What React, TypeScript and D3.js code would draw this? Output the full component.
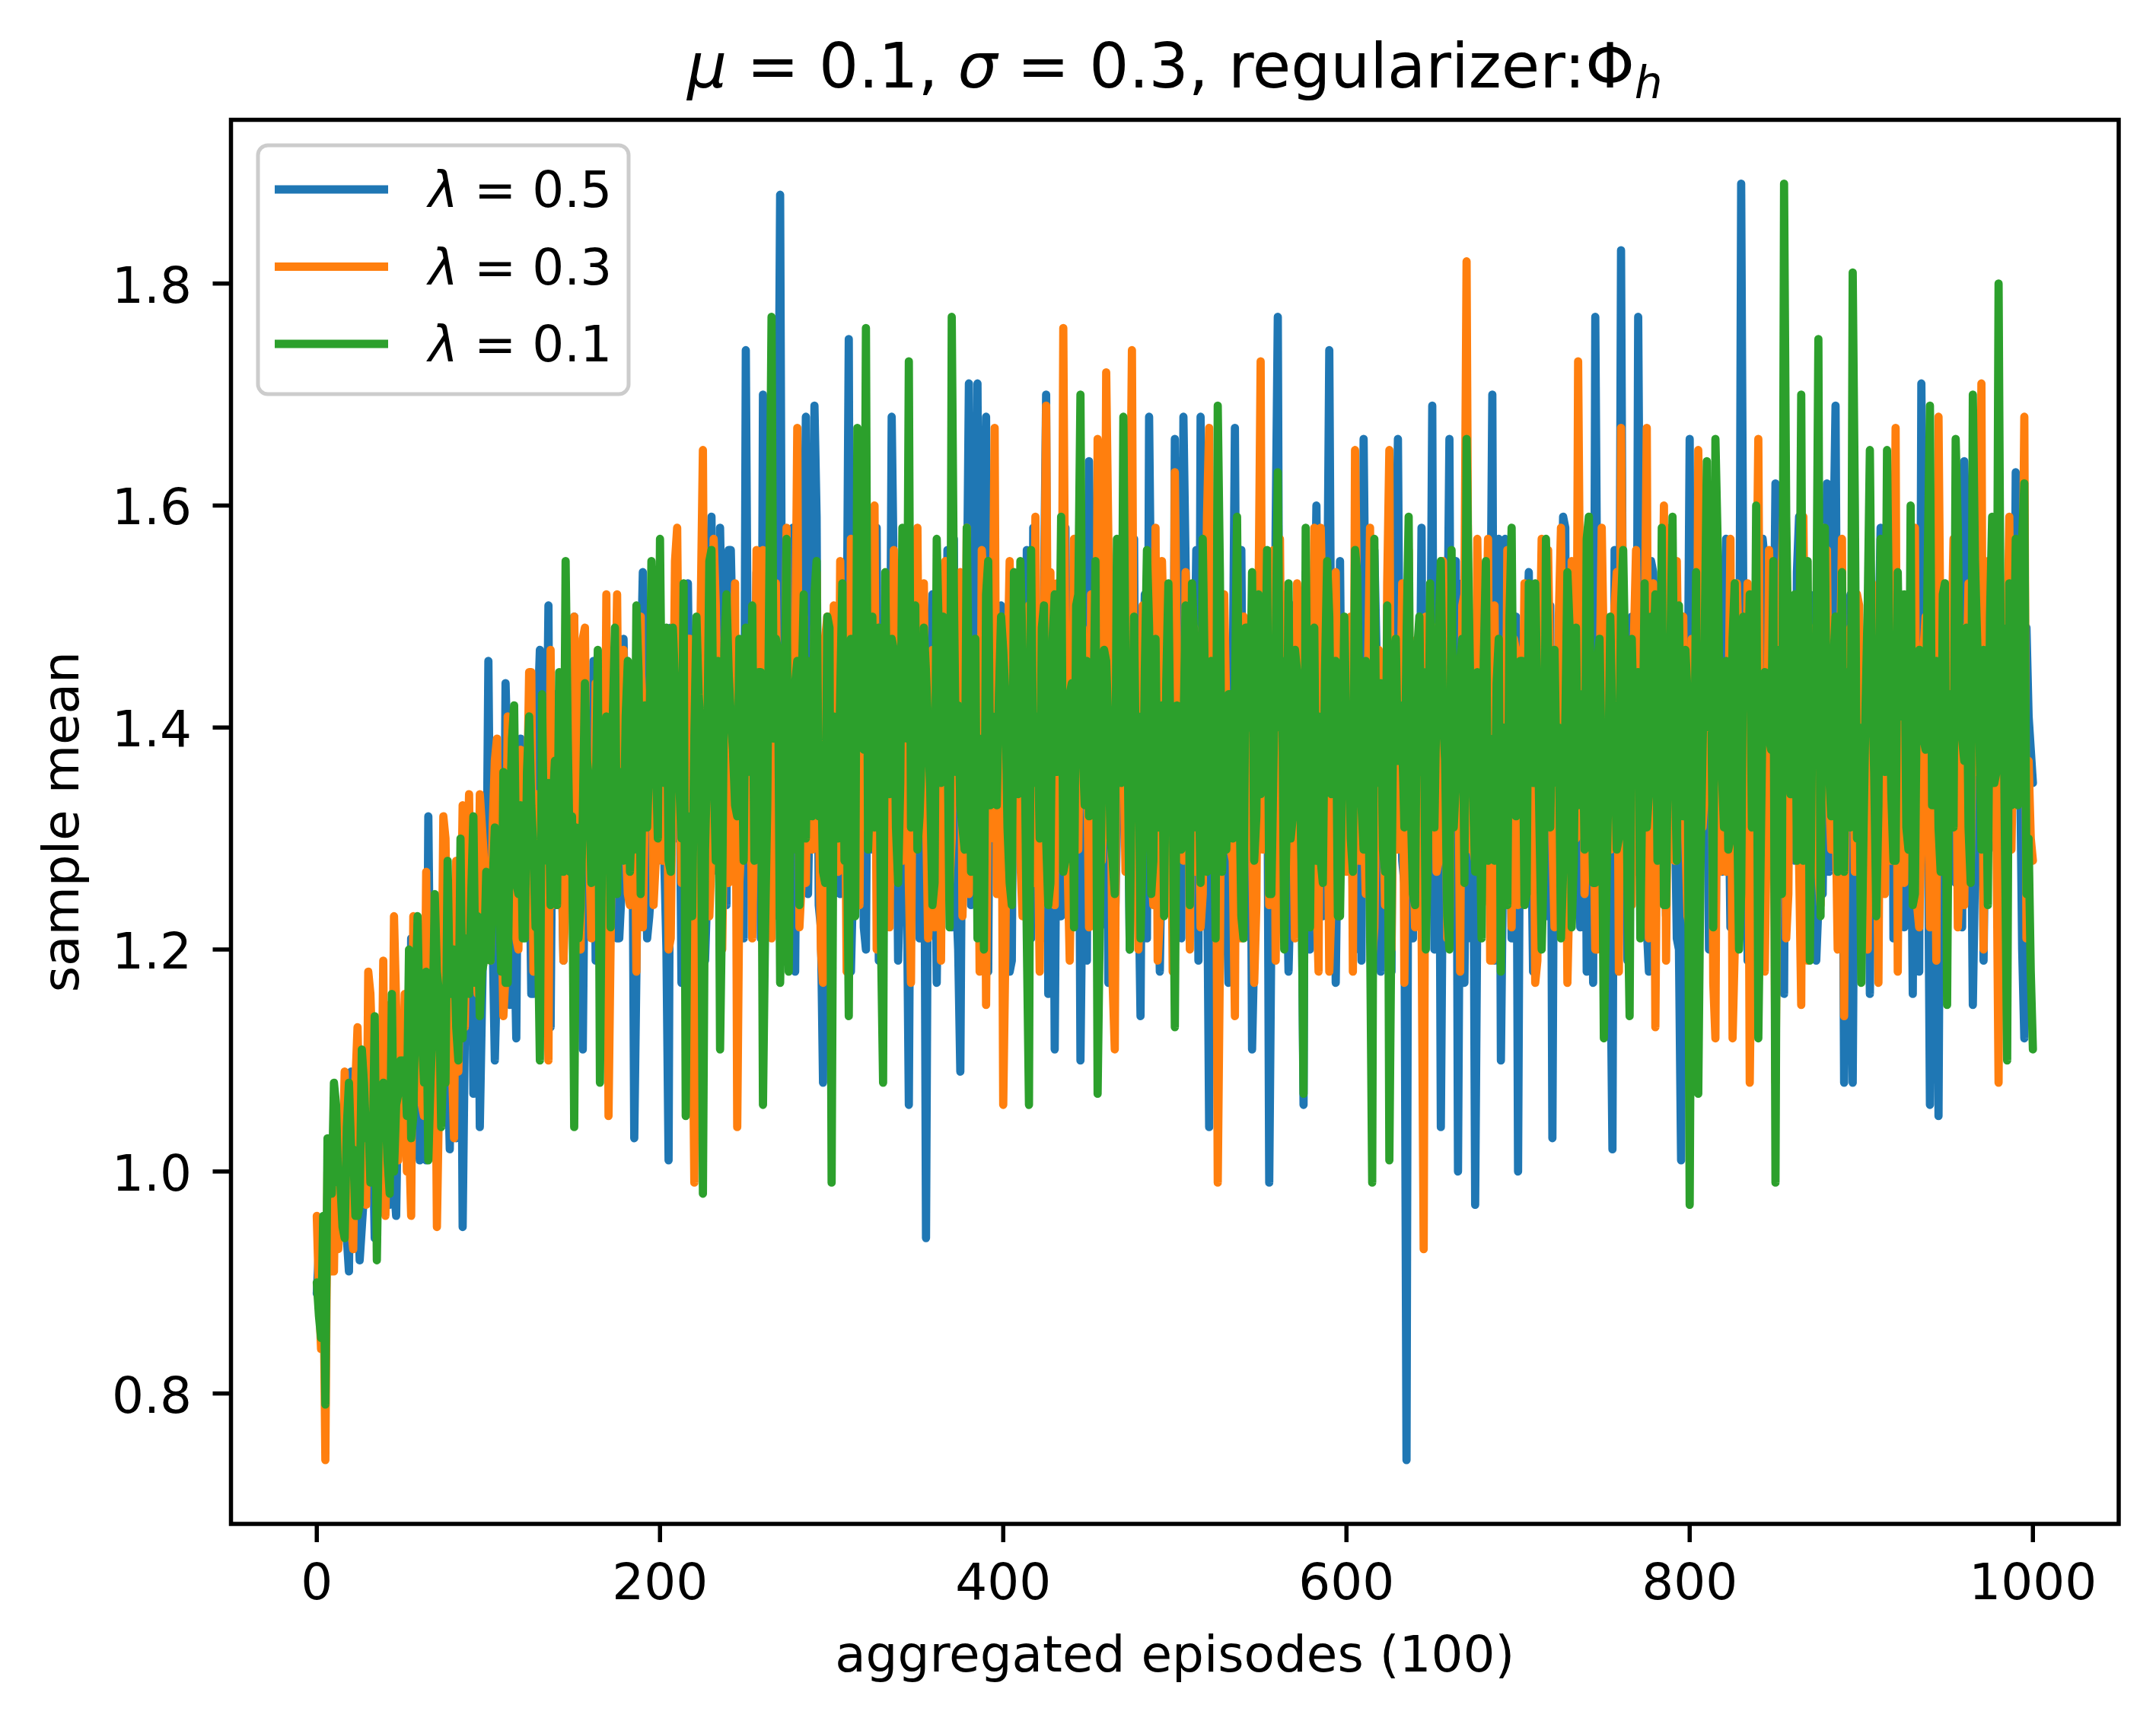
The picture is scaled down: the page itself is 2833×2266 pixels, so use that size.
import * as d3 from "d3";

// readings taken every 5 aggregated episodes (0, 5, ..., 1000)
const stepEpisodes = d3.range(0, 1001, 5);
// readings taken halfway between them (2.5, 7.5, ..., 997.5)
const midEpisodes = d3.range(2.5, 1000, 5);
// readings taken at the quarter points (1.25, 3.75, ..., 998.75)
const quarterEpisodes = d3.range(1.25, 1000, 2.5);

// sample mean, in hundredths
const lambda05Step = [
  89, 84, 93, 97, 109, 92, 101, 96, 104, 99,
  107, 121, 101, 132, 106, 115, 110, 95, 130, 104,
  146, 118, 144, 122, 128, 116, 147, 151, 124, 133,
  150, 111, 128, 136, 147, 121, 138, 103, 154, 126,
  140, 101, 133, 124, 145, 129, 159, 158, 156, 128,
  174, 136, 170, 124, 188, 130, 142, 168, 169, 108,
  139, 125, 175, 133, 120, 148, 131, 168, 127, 106,
  142, 94, 135, 150, 122, 109, 171, 171, 168, 131,
  145, 119, 138, 152, 128, 170, 111, 140, 126, 110,
  164, 133, 145, 121, 150, 134, 114, 168, 129, 142,
  166, 168, 125, 168, 104, 139, 126, 167, 131, 111,
  145, 99, 177, 129, 141, 106, 138, 124, 174, 132,
  148, 120, 166, 136, 118, 144, 166, 74, 140, 125,
  169, 104, 166, 100, 137, 97, 142, 170, 110, 135,
  100, 148, 127, 139, 103, 146, 124, 138, 118, 177,
  131, 102, 183, 128, 177, 122, 145, 133, 150, 101,
  166, 130, 142, 119, 151, 128, 189, 134, 120, 146,
  162, 116, 139, 128, 152, 124, 162, 169, 108, 108,
  141, 116, 147, 131, 155, 122, 116, 171, 106, 105,
  138, 126, 164, 115, 145, 132, 163, 127, 163, 112,
  135,
];
const lambda05Mid = [
  86, 95, 99, 94, 102, 98, 105, 100, 97, 108,
  112, 104, 118, 110, 123, 102, 120, 113, 109, 125,
  121, 133, 115, 137, 126, 130, 119, 138, 129, 141,
  127, 135, 119, 140, 130, 125, 142, 134, 121, 145,
  128, 139, 117, 136, 148, 125, 140, 131, 147, 135,
  129, 150, 123, 142, 135, 158, 127, 136, 124, 146,
  132, 151, 126, 143, 137, 119, 153, 140, 130, 145,
  128, 147, 133, 156, 125, 142, 136, 129, 150, 138,
  124, 147, 133, 158, 121, 139, 149, 132, 144, 127,
  141, 153, 129, 145, 137, 124, 152, 138, 131, 148,
  127, 143, 156, 134, 146, 121, 140, 152, 129, 138,
  155, 132, 140, 126, 149, 137, 160, 128, 145, 134,
  139, 152, 125, 147, 133, 156, 128, 142, 137, 150,
  126, 145, 135, 153, 121, 148, 131, 139, 157, 127,
  144, 133, 151, 126, 140, 158, 130, 147, 136, 124,
  149, 138, 127, 144, 132, 155, 129, 146, 121, 141,
  135, 152, 128, 145, 137, 123, 150, 141, 157, 130,
  143, 129, 154, 136, 147, 125, 140, 133, 151, 138,
  129, 146, 135, 158, 127, 142, 149, 132, 144, 123,
  147, 139, 128, 153, 136, 145, 130, 149, 137, 141,
];
const lambda05Quarter = [
  93, 87, 98, 102, 94, 105, 97, 91, 104, 99, 95, 107, 100, 94, 108, 98, 103, 110, 96, 105,
  108, 100, 117, 105, 122, 101, 113, 120, 106, 125, 110, 119, 103, 128, 112, 121, 107, 130, 115, 123,
  124, 110, 133, 117, 137, 120, 112, 139, 122, 131, 116, 141, 125, 134, 113, 143, 127, 119, 136, 129,
  120, 138, 131, 122, 146, 124, 135, 117, 142, 130, 121, 148, 127, 137, 118, 145, 133, 123, 150, 128,
  133, 120, 149, 130, 141, 122, 153, 135, 126, 146, 119, 151, 136, 127, 147, 124, 156, 132, 142, 121,
  142, 128, 154, 121, 148, 134, 123, 157, 139, 127, 150, 118, 144, 152, 125, 137, 159, 122, 146, 131,
  125, 151, 131, 146, 118, 155, 138, 122, 149, 129, 158, 120, 143, 134, 153, 119, 147, 127, 140, 156,
  121, 145, 133, 152, 117, 148, 128, 142, 157, 120, 139, 150, 124, 146, 132, 154, 118, 143, 135, 151,
  130, 118, 149, 140, 126, 156, 121, 145, 134, 152, 116, 147, 138, 123, 158, 122, 141, 150, 128, 119,
  148, 136, 122, 154, 117, 145, 131, 151, 139, 120, 157, 127, 143, 121, 149, 133, 118, 153, 138, 125,
  146, 121, 155, 131, 142, 119, 150, 129, 158, 123, 140, 148, 117, 144, 135, 156, 124, 147, 120, 152,
  134, 145, 122, 158, 127, 139, 118, 151, 143, 128, 154, 120, 146, 136, 123, 149, 140, 117, 155, 130,
  141, 124, 151, 119, 147, 135, 156, 122, 145, 131, 118, 153, 138, 126, 150, 121, 143, 158, 127, 140,
  120, 149, 130, 146, 123, 155, 134, 117, 148, 140, 124, 152, 132, 145, 119, 157, 128, 142, 121, 150,
  139, 126, 154, 118, 147, 136, 123, 151, 143, 129, 159, 120, 146, 133, 122, 153, 140, 117, 148, 127,
  144, 121, 156, 132, 141, 119, 150, 127, 147, 136, 118, 154, 130, 145, 123, 158, 134, 120, 146, 139,
  126, 152, 135, 146, 120, 149, 141, 127, 157, 122, 144, 133, 151, 119, 147, 137, 124, 155, 131, 143,
  148, 122, 153, 139, 128, 159, 124, 145, 135, 119, 150, 142, 127, 156, 133, 144, 121, 152, 137, 146,
  120, 147, 139, 126, 158, 132, 143, 121, 151, 145, 124, 137, 154, 118, 146, 134, 127, 149, 141, 123,
  151, 133, 144, 122, 157, 137, 127, 148, 119, 153, 140, 129, 146, 123, 156, 135, 142, 120, 149, 138,
];

const lambda03Step = [
  96, 74, 91, 99, 95, 104, 118, 101, 96, 123,
  106, 96, 112, 108, 95, 130, 103, 133, 117, 134,
  122, 139, 118, 131, 124, 145, 127, 110, 139, 125,
  150, 148, 121, 137, 105, 152, 130, 141, 122, 147,
  131, 120, 158, 136, 99, 165, 128, 143, 126, 104,
  145, 132, 156, 121, 141, 130, 167, 126, 149, 117,
  138, 155, 124, 142, 131, 160, 120, 139, 148, 126,
  158, 133, 122, 146, 130, 154, 125, 143, 115, 167,
  106, 139, 128, 151, 133, 169, 124, 176, 131, 145,
  122, 166, 172, 111, 140, 174, 127, 148, 119, 137,
  163, 128, 145, 122, 167, 99, 141, 114, 150, 130,
  173, 124, 139, 152, 121, 144, 131, 158, 118, 136,
  127, 165, 132, 119, 146, 165, 129, 140, 122, 93,
  138, 150, 121, 142, 182, 128, 145, 119, 139, 155,
  124, 141, 117, 149, 130, 158, 126, 173, 132, 120,
  146, 135, 167, 124, 140, 167, 113, 160, 131, 147,
  122, 165, 136, 112, 144, 112, 150, 108, 166, 132,
  108, 161, 138, 115, 149, 127, 156, 133, 114, 147,
  129, 152, 117, 140, 167, 126, 148, 131, 122, 168,
  135, 150, 124, 142, 171, 130, 108, 146, 133, 168,
  128,
];
const lambda03Mid = [
  84, 97, 93, 101, 108, 99, 110, 103, 115, 101,
  100, 114, 105, 121, 112, 118, 109, 126, 120, 128,
  131, 125, 136, 120, 133, 127, 138, 124, 131, 143,
  135, 129, 144, 126, 138, 133, 124, 141, 136, 128,
  143, 137, 126, 148, 133, 140, 151, 135, 142, 130,
  138, 147, 129, 153, 135, 142, 126, 145, 134, 150,
  128, 143, 136, 155, 130, 141, 149, 127, 138, 146,
  134, 125, 152, 139, 147, 131, 141, 156, 130, 137,
  145, 132, 150, 126, 140, 154, 137, 128, 149, 135,
  143, 128, 139, 153, 131, 146, 136, 124, 155, 140,
  132, 149, 127, 143, 135, 152, 129, 145, 138, 124,
  141, 156, 133, 128, 147, 136, 125, 149, 140, 131,
  150, 128, 144, 137, 124, 139, 153, 131, 146, 135,
  127, 142, 136, 151, 129, 144, 157, 133, 126, 148,
  137, 129, 145, 156, 123, 141, 135, 150, 128, 143,
  132, 154, 127, 148, 136, 125, 146, 139, 155, 130,
  144, 131, 150, 127, 139, 153, 134, 142, 126, 148,
  136, 125, 147, 140, 131, 158, 129, 144, 137, 152,
  141, 133, 156, 128, 145, 137, 124, 150, 139, 131,
  147, 127, 153, 136, 144, 155, 140, 129, 151, 137,
];
const lambda03Quarter = [
  89, 93, 100, 91, 104, 96, 109, 100, 93, 113, 103, 97, 116, 105, 99, 119, 108, 101, 115, 106,
  116, 103, 123, 110, 106, 127, 113, 121, 107, 132, 117, 110, 128, 119, 113, 134, 122, 116, 131, 124,
  119, 137, 126, 114, 141, 129, 121, 138, 125, 145, 118, 134, 130, 122, 147, 127, 140, 119, 143, 131,
  136, 120, 149, 129, 123, 144, 133, 152, 121, 140, 130, 147, 125, 137, 118, 150, 134, 143, 124, 153,
  128, 146, 121, 155, 137, 127, 148, 119, 142, 151, 132, 123, 157, 138, 120, 147, 135, 153, 126, 144,
  140, 121, 156, 134, 147, 125, 151, 137, 119, 158, 130, 145, 122, 150, 141, 129, 154, 120, 148, 135,
  151, 127, 143, 118, 157, 139, 124, 149, 132, 154, 120, 146, 136, 122, 156, 141, 128, 151, 117, 144,
  133, 153, 121, 147, 140, 119, 155, 126, 150, 135, 123, 158, 131, 143, 118, 152, 138, 146, 125, 148,
  120, 155, 135, 144, 123, 150, 131, 159, 118, 147, 139, 125, 153, 133, 145, 119, 157, 129, 149, 141,
  152, 122, 146, 136, 157, 117, 149, 140, 127, 154, 133, 120, 151, 143, 128, 158, 123, 147, 138, 118,
  145, 131, 154, 120, 149, 139, 125, 159, 130, 146, 119, 152, 141, 128, 155, 121, 148, 136, 117, 151,
  129, 150, 140, 119, 157, 126, 147, 135, 153, 122, 144, 132, 158, 118, 149, 139, 124, 154, 131, 146,
  136, 118, 151, 143, 125, 158, 122, 147, 134, 153, 120, 145, 139, 117, 156, 130, 148, 123, 150, 141,
  149, 128, 155, 121, 146, 137, 118, 152, 142, 129, 157, 124, 145, 119, 151, 140, 132, 156, 122, 147,
  127, 153, 136, 146, 119, 157, 133, 144, 122, 150, 139, 117, 155, 130, 148, 125, 152, 135, 120, 158,
  142, 129, 151, 118, 149, 139, 124, 156, 132, 147, 121, 153, 137, 145, 119, 158, 128, 141, 150, 123,
  148, 122, 154, 134, 145, 117, 151, 141, 127, 157, 120, 146, 137, 153, 125, 149, 133, 118, 156, 140,
  131, 155, 121, 150, 142, 128, 159, 119, 147, 139, 124, 152, 134, 145, 120, 157, 141, 149, 127, 151,
  146, 120, 153, 135, 148, 125, 156, 140, 118, 150, 143, 130, 158, 122, 147, 137, 154, 119, 145, 151,
  133, 157, 122, 149, 142, 127, 153, 138, 120, 155, 146, 131, 151, 125, 159, 141, 134, 148, 121, 130,
];

const lambda01Step = [
  90, 79, 108, 95, 102, 97, 105, 92, 106, 100,
  110, 103, 112, 101, 118, 108, 120, 112, 125, 114,
  122, 128, 117, 142, 121, 133, 110, 135, 124, 155,
  104, 132, 126, 108, 138, 125, 141, 129, 136, 155,
  157, 128, 143, 105, 139, 98, 156, 111, 145, 132,
  149, 128, 106, 177, 117, 118, 146, 130, 152, 127,
  99, 143, 114, 167, 176, 131, 108, 148, 135, 173,
  129, 145, 126, 150, 177, 133, 142, 121, 152, 135,
  147, 124, 155, 106, 141, 130, 152, 127, 144, 170,
  132, 107, 146, 125, 168, 138, 121, 149, 131, 144,
  113, 139, 153, 126, 145, 169, 129, 142, 121, 154,
  134, 125, 163, 130, 147, 107, 141, 128, 150, 123,
  139, 156, 129, 99, 144, 101, 137, 148, 124, 145,
  132, 155, 120, 141, 166, 127, 146, 131, 118, 150,
  134, 125, 153, 128, 143, 121, 149, 133, 157, 126,
  112, 140, 151, 114, 145, 131, 152, 124, 159, 136,
  97, 107, 164, 166, 131, 148, 125, 152, 112, 143,
  99, 189, 134, 170, 119, 175, 138, 150, 127, 181,
  117, 165, 133, 165, 128, 152, 124, 145, 169, 131,
  115, 166, 137, 170, 129, 150, 180, 110, 157, 162,
  111,
];
const lambda01Mid = [
  85, 101, 99, 104, 96, 108, 100, 103, 98, 107,
  105, 115, 108, 113, 104, 116, 110, 121, 117, 119,
  126, 118, 131, 125, 136, 122, 128, 133, 140, 127,
  121, 137, 132, 128, 141, 134, 127, 145, 131, 138,
  135, 149, 130, 124, 143, 137, 128, 147, 138, 141,
  137, 145, 133, 148, 140, 129, 143, 139, 132, 150,
  136, 128, 146, 140, 135, 149, 138, 131, 147, 140,
  138, 134, 148, 141, 136, 129, 145, 139, 133, 143,
  131, 146, 138, 135, 149, 126, 142, 137, 151, 133,
  140, 135, 130, 147, 139, 133, 145, 128, 142, 137,
  135, 148, 131, 144, 138, 127, 143, 136, 149, 132,
  141, 137, 146, 130, 139, 134, 128, 145, 138, 136,
  130, 143, 138, 135, 127, 146, 139, 133, 150, 129,
  143, 137, 131, 148, 140, 135, 128, 144, 139, 134,
  146, 138, 131, 147, 135, 140, 128, 143, 137, 148,
  134, 129, 145, 139, 136, 150, 133, 141, 128, 147,
  131, 138, 145, 140, 129, 135, 147, 133, 142, 138,
  134, 146, 128, 143, 139, 149, 132, 137, 145, 130,
  142, 136, 150, 134, 141, 129, 146, 138, 133, 152,
  137, 143, 131, 148, 140, 135, 149, 133, 144, 130,
];
const lambda01Quarter = [
  87, 96, 103, 98, 106, 99, 94, 108, 102, 96, 111, 103, 99, 114, 105, 108, 101, 116, 106, 110,
  110, 120, 105, 123, 112, 118, 108, 125, 116, 110, 128, 118, 113, 130, 120, 116, 132, 123, 118, 127,
  119, 131, 124, 136, 117, 139, 126, 133, 121, 141, 129, 123, 143, 131, 124, 137, 145, 127, 139, 132,
  131, 124, 144, 135, 127, 147, 130, 141, 122, 149, 136, 128, 146, 133, 151, 125, 142, 137, 148, 130,
  137, 149, 127, 144, 135, 153, 132, 123, 150, 140, 129, 155, 137, 146, 125, 152, 141, 133, 148, 128,
  136, 151, 130, 145, 122, 154, 139, 147, 128, 157, 135, 144, 124, 152, 146, 132, 155, 138, 126, 149,
  141, 130, 153, 136, 148, 123, 156, 138, 129, 150, 144, 121, 154, 134, 147, 126, 158, 139, 131, 151,
  132, 149, 140, 124, 157, 135, 146, 122, 152, 142, 131, 158, 127, 148, 137, 120, 155, 141, 133, 150,
  143, 126, 154, 134, 147, 121, 156, 139, 130, 151, 124, 148, 136, 159, 128, 143, 122, 152, 138, 146,
  133, 155, 122, 147, 140, 128, 157, 135, 145, 120, 150, 141, 129, 156, 125, 148, 138, 123, 153, 134,
  142, 129, 151, 124, 148, 137, 157, 127, 146, 121, 154, 134, 143, 130, 159, 123, 149, 140, 128, 152,
  136, 156, 125, 147, 140, 120, 153, 132, 145, 128, 158, 122, 149, 141, 126, 155, 134, 146, 123, 150,
  140, 127, 154, 133, 146, 122, 157, 138, 129, 151, 124, 148, 142, 131, 159, 125, 147, 136, 120, 153,
  131, 149, 141, 123, 156, 135, 146, 126, 152, 134, 145, 121, 155, 139, 128, 148, 140, 124, 158, 132,
  146, 124, 153, 135, 143, 120, 157, 131, 147, 140, 127, 154, 122, 149, 141, 129, 159, 126, 146, 136,
  123, 150, 138, 130, 156, 126, 148, 141, 121, 153, 134, 145, 128, 158, 124, 147, 137, 151, 132, 143,
  134, 154, 127, 148, 140, 122, 157, 136, 146, 130, 153, 120, 150, 142, 131, 160, 127, 145, 139, 155,
  147, 125, 159, 134, 152, 141, 128, 155, 138, 148, 123, 158, 136, 146, 127, 154, 142, 131, 160, 140,
  130, 151, 144, 123, 157, 136, 148, 128, 154, 141, 131, 160, 125, 147, 139, 155, 133, 146, 127, 153,
  143, 131, 158, 139, 149, 126, 155, 140, 147, 124, 159, 136, 146, 129, 153, 142, 133, 157, 125, 118,
];

const lambdas = ["0.5", "0.3", "0.1"];
const colors = ["#1f77b4", "#ff7f0e", "#2ca02c"];
const xTicks = [0, 200, 400, 600, 800, 1000];
const yTicks = [0.8, 1.0, 1.2, 1.4, 1.6, 1.8];

const W = 2833;
const H = 2266;
const plot = { left: 303.5, right: 2784, top: 157.5, bottom: 2003 };
const font = "DejaVu Sans";

type Point = { ep: number; mean: number };

// put the three sets of readings together in episode order
function combine(step: number[], mid: number[], quarter: number[]): Point[] {
  const pts: Point[] = [
    ...step.map((v, i) => ({ ep: stepEpisodes[i], mean: v / 100 })),
    ...mid.map((v, i) => ({ ep: midEpisodes[i], mean: v / 100 })),
    ...quarter.map((v, i) => ({ ep: quarterEpisodes[i], mean: v / 100 })),
  ];
  return pts.sort((a, b) => a.ep - b.ep);
}

export default function App() {
  const series = [
    combine(lambda05Step, lambda05Mid, lambda05Quarter),
    combine(lambda03Step, lambda03Mid, lambda03Quarter),
    combine(lambda01Step, lambda01Mid, lambda01Quarter),
  ];
  const all = series.flat().map((p) => p.mean);
  const lo = d3.min(all) ?? 0;
  const hi = d3.max(all) ?? 1;
  const padY = (hi - lo) * 0.05;

  const x = d3.scaleLinear().domain([-50, 1050]).range([plot.left, plot.right]);
  const y = d3.scaleLinear().domain([lo - padY, hi + padY]).range([plot.bottom, plot.top]);

  const line = d3
    .line<Point>()
    .x((p) => x(p.ep))
    .y((p) => y(p.mean));

  const midX = (plot.left + plot.right) / 2;
  const midY = (plot.top + plot.bottom) / 2;

  return (
    <svg
      width={W}
      height={H}
      viewBox={`0 0 ${W} ${H}`}
      style={{ position: "absolute", left: 0, top: 0, background: "#ffffff" }}
      fontFamily={font}
    >
      <rect x={0} y={0} width={W} height={H} fill="#ffffff" />
      <defs>
        <clipPath id="plotClip">
          <rect
            x={plot.left}
            y={plot.top}
            width={plot.right - plot.left}
            height={plot.bottom - plot.top}
          />
        </clipPath>
      </defs>

      <g clipPath="url(#plotClip)">
        {series.map((s, k) => (
          <path
            key={k}
            d={line(s) ?? ""}
            fill="none"
            stroke={colors[k]}
            strokeWidth={10.8}
            strokeLinejoin="round"
            strokeLinecap="round"
          />
        ))}
      </g>

      {/* spines */}
      <rect
        x={plot.left}
        y={plot.top}
        width={plot.right - plot.left}
        height={plot.bottom - plot.top}
        fill="none"
        stroke="#000000"
        strokeWidth={5.5}
      />

      {/* x axis */}
      {xTicks.map((t) => (
        <g key={t}>
          <line x1={x(t)} x2={x(t)} y1={plot.bottom} y2={plot.bottom + 24} stroke="#000" strokeWidth={5.5} />
          <text x={x(t)} y={2102} fontSize={66} textAnchor="middle" fill="#000">
            {t}
          </text>
        </g>
      ))}
      <text x={midX} y={2197} fontSize={66} textAnchor="middle" fill="#000">
        aggregated episodes (100)
      </text>

      {/* y axis */}
      {yTicks.map((t) => (
        <g key={t}>
          <line x1={plot.left - 24} x2={plot.left} y1={y(t)} y2={y(t)} stroke="#000" strokeWidth={5.5} />
          <text x={252} y={y(t) + 25} fontSize={66} textAnchor="end" fill="#000">
            {t.toFixed(1)}
          </text>
        </g>
      ))}
      <text
        transform={`translate(103, ${midY}) rotate(-90)`}
        fontSize={66}
        textAnchor="middle"
        fill="#000"
      >
        sample mean
      </text>

      {/* title */}
      <text x={midX} y={115} fontSize={82} textAnchor="middle" fill="#000">
        <tspan fontStyle="italic">μ</tspan>
        <tspan>{" = 0.1, "}</tspan>
        <tspan fontStyle="italic">σ</tspan>
        <tspan>{" = 0.3, regularizer:Φ"}</tspan>
        <tspan fontStyle="italic" fontSize={58} dy={14}>
          h
        </tspan>
      </text>

      {/* legend */}
      <rect
        x={339}
        y={191}
        width={487}
        height={327}
        rx={13}
        fill="#ffffff"
        fillOpacity={0.8}
        stroke="#cccccc"
        strokeWidth={5}
      />
      {lambdas.map((lab, k) => {
        const ly = 249 + k * 101.5;
        return (
          <g key={lab}>
            <line x1={361} x2={510} y1={ly} y2={ly} stroke={colors[k]} strokeWidth={10.8} />
            <text x={563} y={ly + 23} fontSize={66} fill="#000">
              <tspan fontStyle="italic">λ</tspan>
              <tspan>{` = ${lab}`}</tspan>
            </text>
          </g>
        );
      })}
    </svg>
  );
}
